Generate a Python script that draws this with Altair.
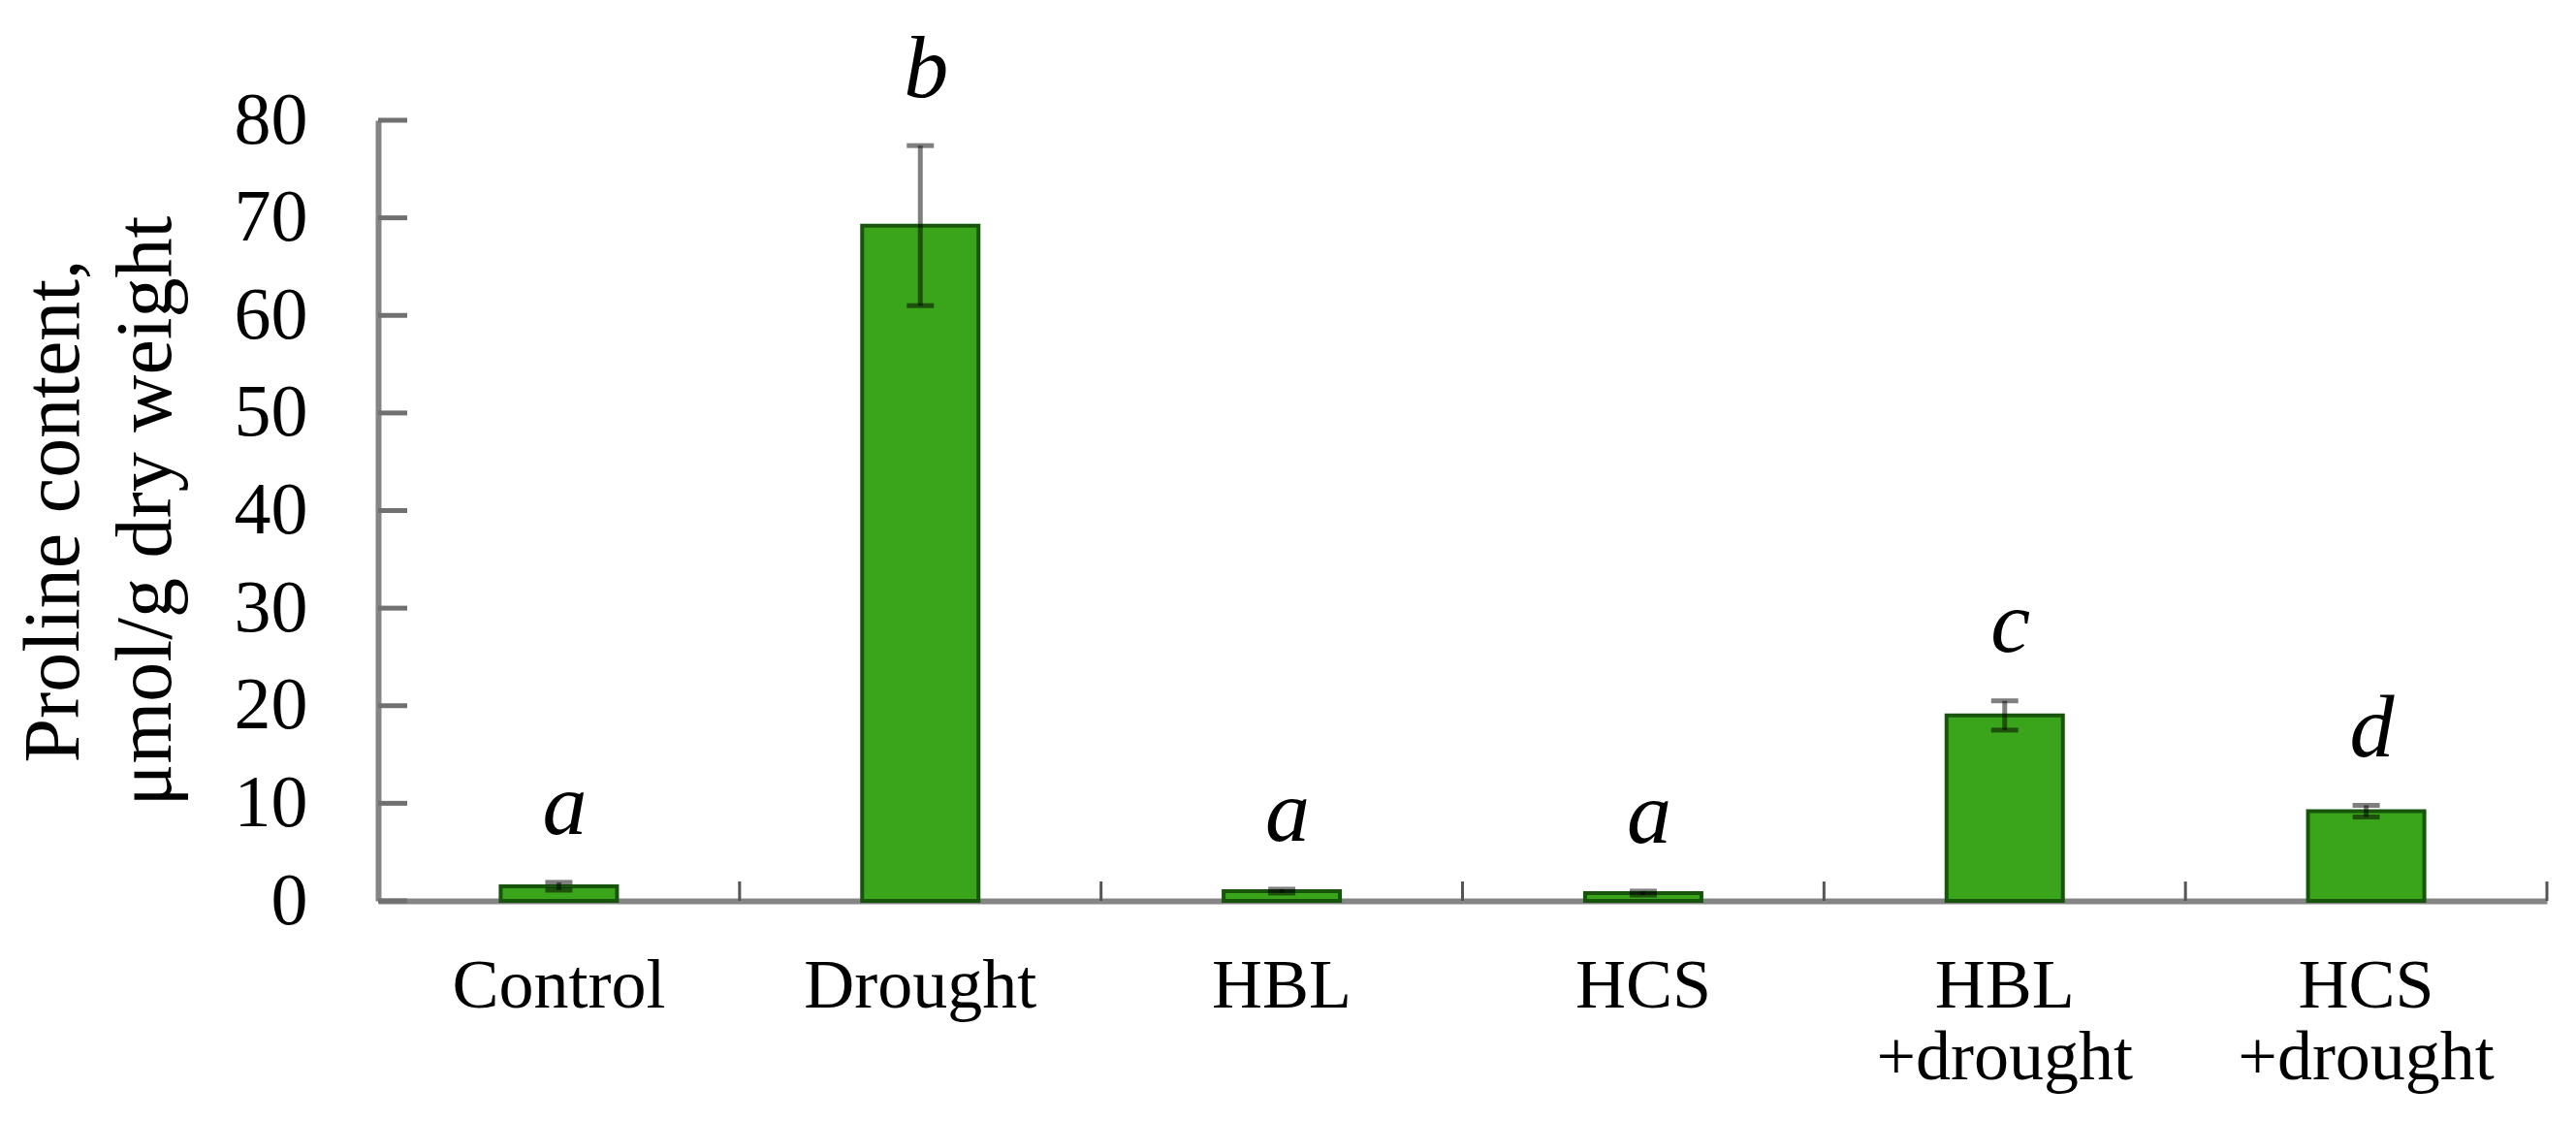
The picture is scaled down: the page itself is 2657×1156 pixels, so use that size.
import altair as alt
import pandas as pd

categories = ["Control", "Drought", "HBL", "HCS", "HBL +drought", "HCS +drought"]
means = [1.5, 69.2, 1.0, 0.8, 19.0, 9.2]
errors = [0.4, 8.2, 0.2, 0.2, 1.5, 0.6]
letters = ["a", "b", "a", "a", "c", "d"]
y_ticks = [0, 10, 20, 30, 40, 50, 60, 70, 80]

df = pd.DataFrame({"cat": categories, "mean": means, "err": errors, "letter": letters})
ticks_df = pd.DataFrame({"v": y_ticks})

W, H = 2237, 805
FONT = "Liberation Serif"

xenc = alt.X(
    "cat:N",
    sort=categories,
    scale=alt.Scale(paddingInner=0, paddingOuter=0),
    axis=alt.Axis(
        title=None,
        labelAngle=0,
        labelExpr="split(datum.label, ' ')",
        labelFont=FONT,
        labelFontSize=72,
        labelColor="black",
        labelPadding=52,
        labelLineHeight=74,
        ticks=False,
        tickSize=0,
        domainColor="#858585",
        domainWidth=6,
        labelLimit=0,
    ),
)

yscale = alt.Scale(domain=[0, 80], nice=False)
yaxis = alt.Axis(
    title=["Proline content,", "μmol/g dry weight"],
    titleFont=FONT,
    titleFontSize=82,
    titleFontWeight="normal",
    titleColor="black",
    titleAngle=270,
    titleAlign="center",
    titleBaseline="alphabetic",
    titleX=-310,
    titleY=H / 2,
    titleLineHeight=95,
    values=y_ticks,
    labelFont=FONT,
    labelFontSize=76,
    labelColor="black",
    labelPadding=73,
    ticks=False,
    tickSize=0,
    grid=False,
    domainColor="#858585",
    domainWidth=6,
)

base = alt.Chart(df)

bars = base.mark_bar(size=120, color="#3aa51a", stroke="#17550c", strokeWidth=4).encode(
    x=xenc,
    y=alt.Y("mean:Q", scale=yscale, axis=yaxis),
)

err = base.transform_calculate(
    lo="datum.mean - datum.err", hi="datum.mean + datum.err"
).mark_rule(color="black", opacity=0.5, strokeWidth=5).encode(
    x=alt.X("cat:N", sort=categories),
    y=alt.Y("lo:Q"),
    y2="hi:Q",
)

cap_hi = base.transform_calculate(hi="datum.mean + datum.err").mark_tick(
    color="black", opacity=0.5, size=28, thickness=5, orient="horizontal"
).encode(x=alt.X("cat:N", sort=categories), y=alt.Y("hi:Q"))

cap_lo = base.transform_calculate(lo="datum.mean - datum.err").mark_tick(
    color="black", opacity=0.5, size=28, thickness=5, orient="horizontal"
).encode(x=alt.X("cat:N", sort=categories), y=alt.Y("lo:Q"))

labels = base.transform_calculate(ly="datum.mean + datum.err + 5").mark_text(
    font=FONT, fontSize=92, fontStyle="italic", baseline="alphabetic", align="center", dx=6, color="black"
).encode(
    x=alt.X("cat:N", sort=categories),
    y=alt.Y("ly:Q"),
    text="letter:N",
)

yticks = alt.Chart(ticks_df).mark_rule(color="#707070", strokeWidth=5).encode(
    y=alt.Y("v:Q", scale=yscale),
    x=alt.value(0),
    x2=alt.value(30),
)

xticks = base.mark_rule(color="#555555", strokeWidth=3).encode(
    x=alt.X("cat:N", sort=categories, bandPosition=1),
    y=alt.value(H),
    y2=alt.value(H - 20),
)

chart = (
    alt.layer(bars, err, cap_hi, cap_lo, labels, yticks, xticks)
    .properties(
        width=W,
        height=H,
        autosize=alt.AutoSizeParams(type="none"),
        padding={"left": 382, "top": 116, "right": 20, "bottom": 219},
        background="white",
    )
    .configure_view(strokeWidth=0)
)

chart.save("out.html", embed_options={"renderer": "svg", "actions": False})
